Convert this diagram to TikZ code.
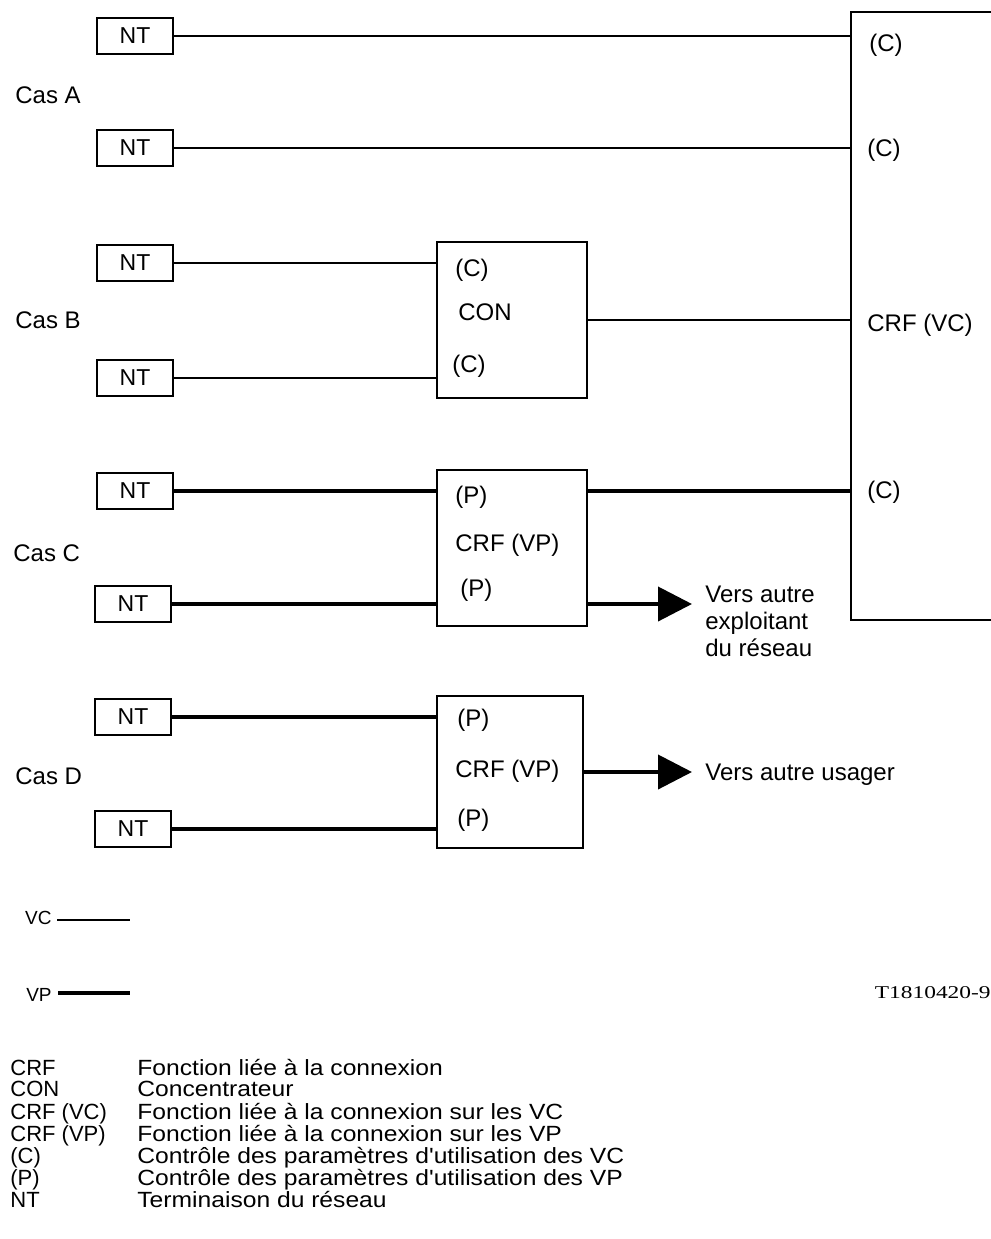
\documentclass[tikz,border=0pt]{standalone}
\usepackage{fontspec}
\usepackage{array}
\setmainfont{Liberation Sans}
\newfontfamily\legfont{Liberation Sans}[FakeStretch=1.12]
\newfontfamily\codefont{Liberation Serif}[FakeStretch=1.3]
\usetikzlibrary{arrows.meta}

\begin{document}
\begin{tikzpicture}[x=0.5pt,y=-0.5pt,nt/.style={draw,line width=1pt,minimum width=38pt,minimum height=18pt,inner sep=0pt,font=\fontsize{11.5}{13}\selectfont},blk/.style={draw,line width=1pt,inner sep=0pt},lbl/.style={anchor=west,inner sep=0pt,font=\fontsize{12}{13}\selectfont},vc/.style={line width=0.8pt},vp/.style={line width=2pt},vpout/.style={-{Triangle[length=17pt,width=17pt]},line width=2pt}]
\useasboundingbox (0,0) rectangle (991,1239);
\node[blk,minimum width=80pt,minimum height=304pt] (crfvc) at (931,316) {};
\node[blk,minimum width=75pt,minimum height=78pt] (con) at (512,320) {};
\node[blk,minimum width=75pt,minimum height=78pt] (vpc) at (512,548) {};
\node[blk,minimum width=73pt,minimum height=76pt] (vpd) at (510,772) {};
\node[nt] (ntAa) at (135,36) {NT};
\node[nt] (ntAb) at (135,148) {NT};
\node[nt] (ntBa) at (135,263) {NT};
\node[nt] (ntBb) at (135,378) {NT};
\node[nt] (ntCa) at (135,491) {NT};
\node[nt] (ntCb) at (133,604) {NT};
\node[nt] (ntDa) at (133,717) {NT};
\node[nt] (ntDb) at (133,829) {NT};
\node[lbl] (casA) at (15,95) {Cas A};
\node[lbl] (casB) at (15,320) {Cas B};
\node[lbl] (casC) at (13,553) {Cas C};
\node[lbl] (casD) at (15,776) {Cas D};
\node[lbl] (ctlAa) at (869,45) {(C)};
\node[lbl] (ctlAb) at (867,150) {(C)};
\node[lbl] (crfvclab) at (867,325) {CRF (VC)};
\node[lbl] (ctlC) at (867,492) {(C)};
\node[lbl] (ctlBa) at (455,270) {(C)};
\node[lbl] (conlab) at (458,312) {CON};
\node[lbl] (ctlBb) at (452,366) {(C)};
\node[lbl] (pCa) at (455,497) {(P)};
\node[lbl] (vpclab) at (455,545) {CRF (VP)};
\node[lbl] (pCb) at (460,590) {(P)};
\node[lbl] (pDa) at (457,720) {(P)};
\node[lbl] (vpdlab) at (455,771) {CRF (VP)};
\node[lbl] (pDb) at (457,820) {(P)};
\node[lbl,align=left,font=\fontsize{12}{13.5}\selectfont] (versop) at (705,621) {Vers autre\\exploitant\\du réseau};
\node[lbl] (versusr) at (705,775) {Vers autre usager};
\coordinate (toop) at (692,604);
\coordinate (tousr) at (692,772);
\draw[vc] (ntAa.east) -- (ntAa.east -| crfvc.west);
\draw[vc] (ntAb.east) -- (ntAb.east -| crfvc.west);
\draw[vc] (ntBa.east) -- (ntBa.east -| con.west);
\draw[vc] (ntBb.east) -- (ntBb.east -| con.west);
\draw[vc] (con.east) -- (con.east -| crfvc.west);
\draw[vp] (ntCa.east) -- (ntCa.east -| vpc.west);
\draw[vp] (ntCb.east) -- (ntCb.east -| vpc.west);
\draw[vp] (ntCa.east -| vpc.east) -- (ntCa.east -| crfvc.west);
\draw[vpout] (ntCb.east -| vpc.east) -- (toop);
\draw[vp] (ntDa.east) -- (ntDa.east -| vpd.west);
\draw[vp] (ntDb.east) -- (ntDb.east -| vpd.west);
\draw[vpout] (vpd.east) -- (tousr);
\node[lbl,anchor=east,font=\fontsize{9.5}{11}\selectfont] (vclab) at (52,918) {VC};
\coordinate (vcbeg) at (57,920);
\coordinate (vcend) at (130,920);
\draw[vc] (vcbeg) -- (vcend);
\node[lbl,anchor=east,font=\fontsize{9.5}{11}\selectfont] (vplab) at (52,995) {VP};
\coordinate (vpbeg) at (58,993);
\coordinate (vpend) at (130,993);
\draw[vp,line width=2.3pt] (vpbeg) -- (vpend);
\node[anchor=east,inner sep=0pt,font=\codefont\fontsize{9}{11}\selectfont] (figid) at (991,993) {T1810420-9};
\node[anchor=north west,inner sep=0pt,font=\fontsize{11}{10}\selectfont] (legend) at (10,1059) {\begin{tabular}{@{}p{63.5pt}@{}>{\legfont}l@{}}
CRF & Fonction liée à la connexion\\
CON & Concentrateur\\
CRF (VC) & Fonction liée à la connexion sur les VC\\
CRF (VP) & Fonction liée à la connexion sur les VP\\
(C) & Contrôle des paramètres d'utilisation des VC\\
(P) & Contrôle des paramètres d'utilisation des VP\\
NT & Terminaison du réseau
\end{tabular}};
\end{tikzpicture}
\end{document}
